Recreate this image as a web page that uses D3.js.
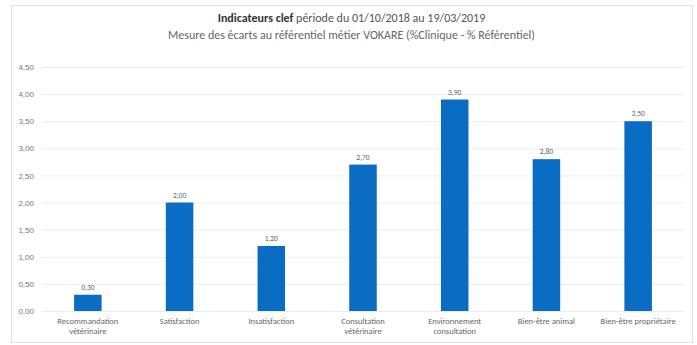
<!DOCTYPE html>
<html>
<head>
<meta charset="utf-8">
<script src="https://cdn.jsdelivr.net/npm/d3@7"></script>
<style>
  body { margin: 0; background: #fff; }
  svg { display: block; font-family: Carlito, "Liberation Sans", "Open Sans", sans-serif; }
</style>
</head>
<body>
<div id="chart"></div>
<script>
'use strict';

var categories = [
    ["Recommandation", "vétérinaire"],
    ["Satisfaction"],
    ["Insatisfaction"],
    ["Consultation", "vétérinaire"],
    ["Environnement", "consultation"],
    ["Bien-être animal"],
    ["Bien-être propriétaire"]
];
var values = [0.30, 2.00, 1.20, 2.70, 3.90, 2.80, 3.50];
var yTicks = [0, 0.5, 1, 1.5, 2, 2.5, 3, 3.5, 4, 4.5];

var W = 697, H = 345;
var margin = {top: 67, right: 13, bottom: 34, left: 42};
var width  = W - margin.left - margin.right,
    height = H - margin.top - margin.bottom;

var fmt = function(v){ return d3.format(".2f")(v).replace(".", ","); };

var svg = d3.select("#chart").append("svg")
    .attr("width", W).attr("height", H);

// frame
svg.append("rect")
    .attr("x", 11.5).attr("y", 5.5)
    .attr("width", 681).attr("height", 337)
    .attr("fill", "none")
    .attr("stroke", "#e0e0e0");

// titles
var title = svg.append("text")
    .attr("x", W/2 + 3).attr("y", 22)
    .attr("text-anchor", "middle")
    .attr("font-size", 12)
    .attr("fill", "#555");
title.append("tspan").attr("font-weight", "bold").attr("fill", "#333").text("Indicateurs clef ");
title.append("tspan").text("période du 01/10/2018 au 19/03/2019");

svg.append("text")
    .attr("x", W/2 + 3).attr("y", 39)
    .attr("text-anchor", "middle")
    .attr("font-size", 12)
    .attr("fill", "#666")
    .text("Mesure des écarts au référentiel métier VOKARE (%Clinique - % Référentiel)");

var g = svg.append("g")
    .attr("transform", "translate(" + margin.left + "," + margin.top + ")");

var x = d3.scaleBand().domain(d3.range(categories.length))
    .range([0, width]).paddingInner(0.7).paddingOuter(0.35);
var y = d3.scaleLinear().domain([0, 4.5]).range([height, 0]);

// gridlines
g.selectAll("line.grid").data(yTicks).enter().append("line")
    .attr("class", "grid")
    .attr("x1", 0).attr("x2", width)
    .attr("y1", function(d){ return y(d) + 0.5; })
    .attr("y2", function(d){ return y(d) + 0.5; })
    .attr("stroke", "#ebebeb")
    .attr("stroke-width", 1);

// y axis labels
var yAxis = d3.axisLeft(y).tickValues(yTicks).tickFormat(fmt).tickSize(0).tickPadding(8);
var ya = g.append("g").call(yAxis);
ya.select(".domain").remove();
ya.selectAll("text").attr("font-size", 8).attr("fill", "#777")
    .attr("font-family", "inherit");

// bars
g.selectAll("rect.bar").data(values).enter().append("rect")
    .attr("class", "bar")
    .attr("x", function(d, i){ return x(i); })
    .attr("width", x.bandwidth())
    .attr("y", function(d){ return y(d); })
    .attr("height", function(d){ return height - y(d); })
    .attr("fill", "#0b6cc3");

// value labels
g.selectAll("text.val").data(values).enter().append("text")
    .attr("class", "val")
    .attr("x", function(d, i){ return x(i) + x.bandwidth()/2; })
    .attr("y", function(d){ return y(d) - 5; })
    .attr("text-anchor", "middle")
    .attr("font-size", 7.5)
    .attr("fill", "#666")
    .text(fmt);

// category labels
var cl = g.selectAll("text.cat").data(categories).enter().append("text")
    .attr("class", "cat")
    .attr("x", function(d, i){ return x(i) + x.bandwidth()/2; })
    .attr("y", height + 13)
    .attr("text-anchor", "middle")
    .attr("font-size", 8.5)
    .attr("fill", "#666");
cl.selectAll("tspan").data(function(d){ return d; }).enter().append("tspan")
    .attr("x", function(){ return d3.select(this.parentNode).attr("x"); })
    .attr("dy", function(d, i){ return i ? 10 : 0; })
    .text(function(d){ return d; });
</script>
</body>
</html>
